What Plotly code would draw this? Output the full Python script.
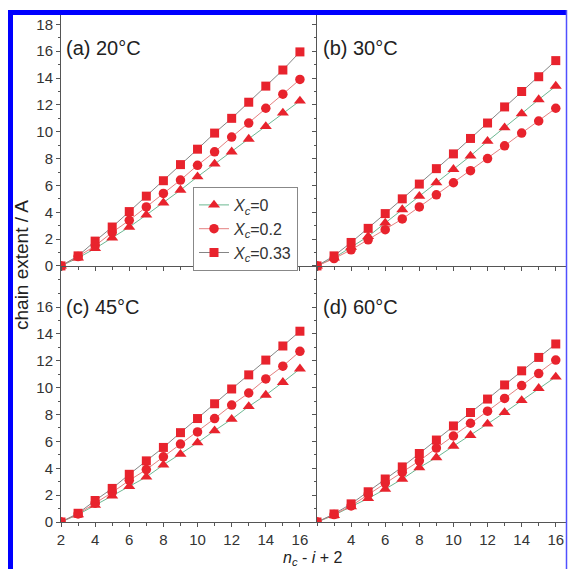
import plotly.graph_objects as go

x_vals = list(range(2, 17))

panel_labels = ["(a) 20°C", "(b) 30°C", "(c) 45°C", "(d) 60°C"]
series_names = ["<i>X</i><sub><i>c</i></sub>=0", "<i>X</i><sub><i>c</i></sub>=0.2", "<i>X</i><sub><i>c</i></sub>=0.33"]

a_tri = [0, 0.6, 1.3, 2.1, 2.9, 3.8, 4.7, 5.65, 6.65, 7.6, 8.5, 9.45, 10.4, 11.4, 12.3]
a_circ = [0, 0.7, 1.5, 2.5, 3.4, 4.4, 5.4, 6.4, 7.5, 8.5, 9.6, 10.65, 11.75, 12.8, 13.9]
a_sq = [0, 0.75, 1.85, 2.9, 4.05, 5.2, 6.35, 7.55, 8.7, 9.9, 11.0, 12.2, 13.4, 14.6, 15.95]

b_tri = [0, 0.6, 1.4, 2.2, 3.2, 4.2, 5.2, 6.2, 7.2, 8.2, 9.3, 10.3, 11.35, 12.4, 13.4]
b_circ = [0, 0.55, 1.2, 1.95, 2.7, 3.5, 4.4, 5.3, 6.2, 7.1, 8.0, 8.95, 9.9, 10.8, 11.75]
b_sq = [0, 0.75, 1.75, 2.8, 3.9, 5.0, 6.1, 7.25, 8.35, 9.5, 10.65, 11.85, 13.0, 14.1, 15.3]

c_tri = [0, 0.55, 1.25, 1.95, 2.65, 3.35, 4.25, 5.05, 5.9, 6.8, 7.65, 8.6, 9.45, 10.4, 11.4]
c_circ = [0, 0.6, 1.4, 2.2, 3.1, 3.9, 4.85, 5.8, 6.7, 7.7, 8.7, 9.6, 10.65, 11.6, 12.7]
c_sq = [0, 0.65, 1.6, 2.5, 3.55, 4.55, 5.55, 6.65, 7.7, 8.8, 9.9, 10.95, 12.05, 13.1, 14.2]

d_tri = [0, 0.5, 1.15, 1.75, 2.45, 3.2, 4.05, 4.8, 5.65, 6.45, 7.3, 8.15, 9.05, 9.95, 10.8]
d_circ = [0, 0.55, 1.2, 2.05, 2.9, 3.7, 4.55, 5.5, 6.4, 7.35, 8.25, 9.2, 10.15, 11.05, 12.05]
d_sq = [0, 0.6, 1.35, 2.25, 3.2, 4.1, 5.1, 6.1, 7.15, 8.15, 9.15, 10.2, 11.25, 12.25, 13.25]

panels = [
    (a_tri, a_circ, a_sq),
    (b_tri, b_circ, b_sq),
    (c_tri, c_circ, c_sq),
    (d_tri, d_circ, d_sq),
]

W, H = 568, 569
L, R, T, B = 61, 2, 15, 47
PW = W - L - R
PH = H - T - B


def px_x(px):
    return (px - L) / PW


def px_y(py):
    return (H - B - py) / PH


dx = px_x(317)
dy = px_y(287)
pos_top = px_y(266)

RED = "#e8232d"
line_cols = ["#6cb892", "#e48080", "#858585"]
symbols = ["triangle-up", "circle", "square"]
sizes = [10.5, 9.5, 9]

fig = go.Figure()
axis_ids = [("x", "y"), ("x2", "y2"), ("x3", "y3"), ("x4", "y4")]
for pi, (series, (xa, ya)) in enumerate(zip(panels, axis_ids)):
    for si, vals in enumerate(series):
        fig.add_trace(go.Scatter(
            x=x_vals, y=vals, xaxis=xa, yaxis=ya,
            mode="lines+markers",
            name=series_names[si],
            showlegend=(pi == 0),
            line=dict(color=line_cols[si], width=1),
            marker=dict(symbol=symbols[si], size=sizes[si], color=RED,
                        line=dict(width=0)),
        ))

FONT = "Arial, Liberation Sans, sans-serif"
AXC = "#555555"
common = dict(showline=True, linecolor=AXC, linewidth=1, showgrid=False, zeroline=False,
              ticks="outside", ticklen=4, tickcolor=AXC, tickwidth=1,
              tickfont=dict(family=FONT, size=15, color="#333333"))
minor = dict(ticks="outside", ticklen=2.5, tickcolor=AXC, dtick=1, tick0=0, showgrid=False)

fig.update_layout(
    width=W, height=H,
    margin=dict(l=L, r=R, t=T, b=B),
    paper_bgcolor="white", plot_bgcolor="white",
    font=dict(family=FONT, color="#333333"),
    xaxis=dict(domain=[0, dx], range=[2, 17], anchor="free", position=pos_top,
               dtick=2, tick0=0, showticklabels=False, minor=minor, **common),
    yaxis=dict(domain=[dy, 1], range=[-1.57, 18.7], anchor="x", dtick=2, tick0=0,
               minor=minor, **common),
    xaxis2=dict(domain=[dx, 1], range=[2, 16.6], anchor="free", position=pos_top,
                dtick=2, tick0=0, showticklabels=False, minor=minor, **common),
    yaxis2=dict(domain=[dy, 1], range=[-1.57, 18.7], anchor="x2", dtick=2, tick0=0,
                showticklabels=False, minor=minor, **common),
    xaxis3=dict(domain=[0, dx], range=[2, 17], anchor="y3", dtick=2, tick0=0,
                minor=minor, **common),
    yaxis3=dict(domain=[0, dy], range=[0, 17.49], anchor="x3", dtick=2, tick0=0,
                minor=minor, **common),
    xaxis4=dict(domain=[dx, 1], range=[2, 16.6], anchor="y4", tickmode="array",
                tickvals=[4, 6, 8, 10, 12, 14, 16],
                minor=dict(ticks="outside", ticklen=2.5, tickcolor=AXC, tickmode="array",
                           tickvals=[3, 5, 7, 9, 11, 13, 15], showgrid=False), **common),
    yaxis4=dict(domain=[0, dy], range=[0, 17.49], anchor="x4", dtick=2, tick0=0,
                showticklabels=False, minor=minor, **common),
    legend=dict(x=px_x(193), y=px_y(187), xanchor="left", yanchor="top",
                bordercolor="#888888", borderwidth=1, bgcolor="white",
                font=dict(family=FONT, size=16, color="#333333"),
                tracegroupgap=0, itemwidth=30),
)

label_pos = [(64, 48), (321, 48), (64, 307), (321, 307)]
for txt, (lx, ly) in zip(panel_labels, label_pos):
    fig.add_annotation(text=txt, xref="paper", yref="paper", x=px_x(lx), y=px_y(ly),
                       xanchor="left", yanchor="middle", showarrow=False,
                       font=dict(family=FONT, size=20, color="#222222"))

fig.add_annotation(text="chain extent / A", xref="paper", yref="paper",
                   x=px_x(21), y=px_y(265), textangle=-90, showarrow=False,
                   xanchor="center", yanchor="middle",
                   font=dict(family=FONT, size=19, color="#222222"))
fig.add_annotation(text="<i>n</i><sub><i>c</i></sub> - <i>i</i> + 2", xref="paper", yref="paper",
                   x=px_x(313), y=px_y(569), showarrow=False, borderpad=0,
                   xanchor="center", yanchor="bottom",
                   font=dict(family=FONT, size=16, color="#222222"))

BLUE = "#0000ff"
fig.add_shape(type="rect", xref="paper", yref="paper",
              x0=px_x(8), x1=px_x(13), y0=px_y(569), y1=px_y(10),
              fillcolor=BLUE, line=dict(width=0), layer="above")
fig.add_shape(type="rect", xref="paper", yref="paper",
              x0=px_x(8), x1=px_x(567), y0=px_y(15), y1=px_y(10),
              fillcolor=BLUE, line=dict(width=0), layer="above")
fig.add_shape(type="line", xref="paper", yref="paper",
              x0=px_x(566.5), x1=px_x(566.5), y0=px_y(569), y1=px_y(10),
              line=dict(color="#5050ff", width=1.5), layer="above")

fig.write_html("out.html")
